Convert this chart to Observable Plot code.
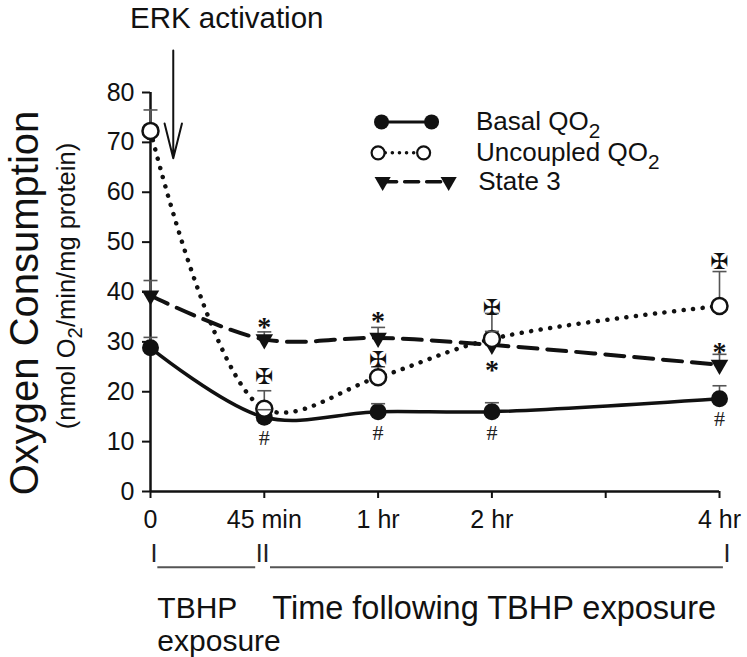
<!DOCTYPE html>
<html>
<head>
<meta charset="utf-8">
<script src="https://cdn.jsdelivr.net/npm/d3@7"></script>
<script src="https://cdn.jsdelivr.net/npm/@observablehq/plot@0.6"></script>
<style>
  body { margin: 0; background: #fff; }
  #chart svg { font-family: "Liberation Sans", Arial, sans-serif; overflow: visible; }
</style>
</head>
<body>
<div id="chart"></div>
<script>
// ---------- data ----------
const axisPositions = [0, 1, 2, 3, 4, 5];
const timeLabels = ["0", "45 min", "1 hr", "2 hr", "", "4 hr"];
const timePoints = [0, 1, 2, 3, 5];

const basalQO2       = [28.8, 14.9, 16.0, 16.0, 18.6];
const basalUpper     = [30.9, 16.4, 17.6, 17.8, 21.2];
const uncoupledQO2   = [72.3, 16.6, 22.9, 30.6, 37.2];
const uncoupledUpper = [76.5, 20.2, 25.0, 35.7, 44.1];
const state3         = [39.3, 30.5, 30.8, 29.4, 25.4];
const state3Upper    = [42.3, 32.0, 32.9, 32.1, 27.5];

// significance marks (time positions, y)
const markTimes = [1, 2, 3, 5];
const hashY  = [10.8, 11.8, 11.8, 14.6];   // "#"  basal
const starY  = [34.2, 35.3, 25.6, 29.1];   // "*"  state 3
const crossY = [22.9, 26.3, 36.9, 46.1];   // "✠" uncoupled

// legend
const legendLabels = ["Basal QO₂", "Uncoupled QO₂", "State 3"];
const legendY      = [74.1, 67.9, 62.1];
const legendX1     = [2.03, 2.00, 2.04];
const legendX2     = [2.47, 2.40, 2.62];
const legendTextX  = [2.86, 2.86, 2.88];

// annotations
const ercTitle = "ERK activation";
const arrowX = 0.2, arrowFrom = 88.4, arrowTo = 66.8;
const phaseMarks = ["I", "II", "I"];
const phaseMarkX = [0.03, 0.985, 5.065];
const phaseLines = [{x1: 0.06, x2: 0.92}, {x1: 1.05, x2: 5.03}];
const phaseTexts = ["TBHP\nexposure", "Time following TBHP exposure"];
const phaseTextX = [0.06, 1.07];

// ---------- build rows ----------
const series = [
  {name: "basal", values: basalQO2, upper: basalUpper},
  {name: "uncoupled", values: uncoupledQO2, upper: uncoupledUpper},
  {name: "state3", values: state3, upper: state3Upper}
];
const rows = s => timePoints.map((t, i) => ({t, v: s.values[i], u: s.upper[i]}));
const basalRows = rows(series[0]), uncRows = rows(series[1]), s3Rows = rows(series[2]);
const allRows = [...basalRows, ...uncRows, ...s3Rows];

const legend = legendLabels.map((label, i) => ({label, y: legendY[i], x1: legendX1[i], x2: legendX2[i], tx: legendTextX[i]}));
const legendPts = k => [{x: legend[k].x1, y: legend[k].y}, {x: legend[k].x2, y: legend[k].y}];

const capSymbol = {draw(ctx, size) { const w = 7; ctx.moveTo(-w, 0); ctx.lineTo(w, 0); }};

const YBASE = -15.2; // bracket line level
const chart = Plot.plot({
  width: 747,
  height: 657,
  marginLeft: 150,
  marginRight: 28,
  marginTop: 92,
  marginBottom: 166,
  x: {domain: [0, 5]},
  y: {domain: [0, 80]},
  style: {fontFamily: "Liberation Sans, Arial, sans-serif", color: "#111", background: "#fff"},
  marks: [
    Plot.axisY({ticks: d3.range(0, 81, 10), tickSize: 8, tickPadding: 8, fontSize: 25, label: null, strokeWidth: 2}),
    Plot.axisX({ticks: axisPositions, tickFormat: d => timeLabels[d], tickSize: 7, tickPadding: 12, fontSize: 25, label: null, strokeWidth: 2}),
    Plot.ruleY([0], {strokeWidth: 2.5, stroke: "#111"}),
    Plot.ruleX([0], {strokeWidth: 2.5, stroke: "#111"}),
    // error bars
    Plot.ruleX(allRows, {x: "t", y1: "v", y2: "u", stroke: "#555", strokeWidth: 1.6}),
    // lines
    Plot.line(basalRows, {x: "t", y: "v", curve: "catmull-rom", stroke: "#111", strokeWidth: 3.5}),
    Plot.line(s3Rows, {x: "t", y: "v", curve: "catmull-rom", stroke: "#111", strokeWidth: 4, strokeDasharray: "19 10"}),
    Plot.line(uncRows, {x: "t", y: "v", curve: "catmull-rom", stroke: "#111", strokeWidth: 4.5, strokeDasharray: "0.1 9.5", strokeLinecap: "round"}),
    // markers
    Plot.dot(basalRows, {x: "t", y: "v", r: 8.5, fill: "#111", stroke: "none"}),
    Plot.dot(s3Rows, {x: "t", y: "v", r: 6.5, symbol: "triangle", rotate: 180, fill: "#111", stroke: "none"}),
    Plot.dot(uncRows, {x: "t", y: "v", r: 8, fill: "#fff", stroke: "#111", strokeWidth: 2.5}),
    Plot.dot(allRows, {x: "t", y: "u", symbol: capSymbol, stroke: "#555", strokeWidth: 1.6}),
    // significance marks
    Plot.text(markTimes, {x: d => d, y: (d, i) => hashY[i], text: () => "#", fontSize: 22, fontFamily: "Liberation Serif, serif", fill: "#222"}),
    Plot.text(markTimes, {x: d => d, y: (d, i) => starY[i], text: () => "*", fontSize: 28, fontFamily: "Liberation Serif, serif", fontWeight: "bold", dy: 6, fill: "#111"}),
    Plot.text(markTimes, {x: d => d, y: (d, i) => crossY[i], text: () => "✠", fontSize: 22, fontFamily: "DejaVu Sans, sans-serif", fill: "#111"}),
    // legend
    Plot.line(legendPts(0), {x: "x", y: "y", stroke: "#111", strokeWidth: 3}),
    Plot.dot(legendPts(0), {x: "x", y: "y", r: 7.5, fill: "#111", stroke: "none"}),
    Plot.line(legendPts(1), {x: "x", y: "y", stroke: "#111", strokeWidth: 3.5, strokeDasharray: "0.1 7", strokeLinecap: "round"}),
    Plot.dot(legendPts(1), {x: "x", y: "y", r: 6.5, fill: "#fff", stroke: "#111", strokeWidth: 2.2}),
    Plot.line(legendPts(2), {x: "x", y: "y", stroke: "#111", strokeWidth: 3.5, strokeDasharray: "14 8"}),
    Plot.dot(legendPts(2), {x: "x", y: "y", r: 6, symbol: "triangle", rotate: 180, fill: "#111", stroke: "none"}),
    Plot.text(legend, {x: "tx", y: "y", text: "label", textAnchor: "start", fontSize: 26, fill: "#111"}),
    // ERK annotation
    Plot.text([ercTitle], {x: 0.67, y: 94.8, fontSize: 29.5, fill: "#111"}),
    Plot.arrow([{x: arrowX, y1: arrowFrom, y2: arrowTo}], {x: "x", y1: "y1", y2: "y2", stroke: "#111", strokeWidth: 2, headAngle: 28, headLength: 27}),
    // axis titles
    Plot.text(["Oxygen Consumption"], {frameAnchor: "left", textAnchor: "middle", dx: -125, dy: 11, rotate: -90, fontSize: 40, fill: "#111"}),
    Plot.text(["(nmol O₂/min/mg protein)"], {frameAnchor: "left", textAnchor: "middle", dx: -84, dy: -6, rotate: -90, fontSize: 25.5, fill: "#111"}),
    // phase brackets
    Plot.text(phaseMarks, {x: (d, i) => phaseMarkX[i], y: -12.6, text: d => d, fontSize: 25, fill: "#222"}),
    Plot.link(phaseLines, {x1: "x1", x2: "x2", y1: YBASE, y2: YBASE, stroke: "#555", strokeWidth: 2}),
    Plot.text(phaseTexts, {x: (d, i) => phaseTextX[i], y: (d, i) => i === 0 ? -26.5 : -23.2, text: d => d, textAnchor: "start", fontSize: (d, i) => i === 0 ? 30 : 32.5, lineHeight: 1.1, fill: "#111"})
  ]
});

document.getElementById("chart").appendChild(chart);

// render "₂" as a lowered subscript 2
const NS = "http://www.w3.org/2000/svg";
chart.querySelectorAll("text, tspan").forEach(node => {
  for (const child of Array.from(node.childNodes)) {
    if (child.nodeType !== 3 || !child.nodeValue.includes("₂")) continue;
    const fs = parseFloat(getComputedStyle(node).fontSize) || 16;
    const shift = fs * 0.3;
    const parts = child.nodeValue.split("₂");
    const frag = document.createDocumentFragment();
    parts.forEach((p, i) => {
      if (i === 0) { if (p) frag.appendChild(document.createTextNode(p)); return; }
      const sub = document.createElementNS(NS, "tspan");
      sub.setAttribute("dy", shift);
      sub.setAttribute("font-size", fs * 0.8);
      sub.textContent = "2";
      frag.appendChild(sub);
      if (p) {
        const back = document.createElementNS(NS, "tspan");
        back.setAttribute("dy", -shift);
        back.textContent = p;
        frag.appendChild(back);
      }
    });
    node.replaceChild(frag, child);
  }
});
</script>
</body>
</html>
